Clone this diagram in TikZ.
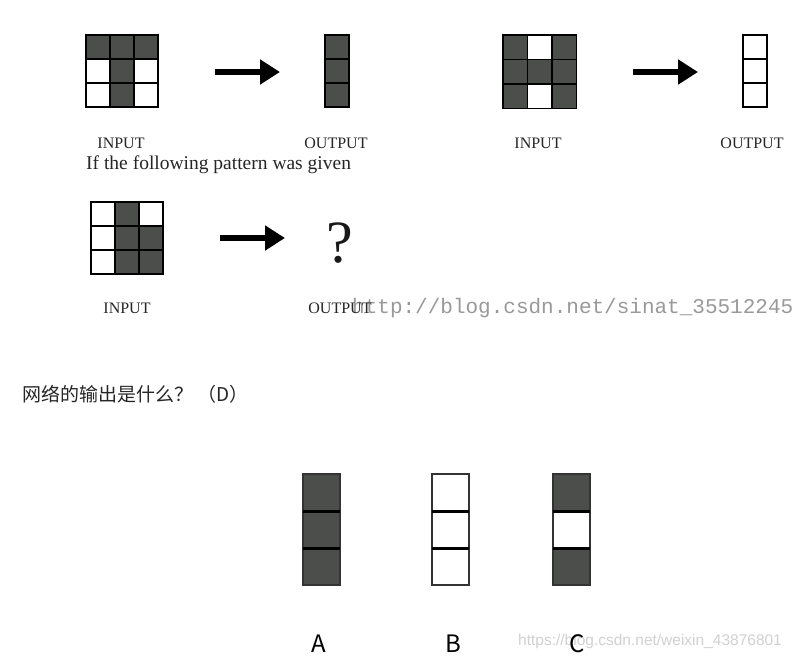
\documentclass[tikz,border=0pt]{standalone}
\usepackage{fontspec}
\setmainfont{Liberation Serif}
\newfontfamily\cjk{Noto Sans CJK SC}
\newfontfamily\wmmono{Liberation Mono}
\newfontfamily\wmsans{Liberation Sans}
\usetikzlibrary{arrows.meta}
\definecolor{darkcell}{RGB}{76,78,75}

% pattern grid: x, y, columns, cell size, cells (1 = dark)
\newcommand{\pixgrid}[5]{%
  \foreach \v [count=\k from 0] in {#5} {
    \pgfmathtruncatemacro{\gc}{mod(\k,#3)}
    \pgfmathtruncatemacro{\gr}{div(\k,#3)}
    \ifnum\v=1 \def\fc{darkcell}\else\def\fc{white}\fi
    \filldraw[cellbox, fill=\fc] ({#1+\gc*#4}, {#2+\gr*#4}) rectangle ++(#4,#4);
  }}

\begin{document}
\begin{tikzpicture}[x=1pt, y=-1pt,
    cellbox/.style={draw=black, line width=1.3pt},
    bigarrow/.style={line width=6.5pt, -{Triangle[length=20pt,width=24pt]}},
    lbl/.style={inner sep=0pt, text=black!85, font=\fontsize{16}{18}\selectfont},
    given/.style={inner sep=0pt, text=black!85, font=\fontsize{19.5}{22}\selectfont},
    qmarkstyle/.style={inner sep=0pt, text=black!90, font=\fontsize{60}{64}\selectfont},
    sepline/.style={draw=black, line width=3pt},
    choice/.style={inner sep=0pt, font=\cjk\fontsize{24}{28}\selectfont},
    cjktext/.style={inner sep=0pt, text=black!85, font=\cjk\fontsize{19}{22}\selectfont},
    wmone/.style={inner sep=0pt, text=black!40, font=\wmmono\fontsize{21}{24}\selectfont},
    wmtwo/.style={inner sep=0pt, text=black!18, font=\wmsans\fontsize{15.5}{18}\selectfont},
  ]
\useasboundingbox[fill=white] (0,0) rectangle (796,659);

% first example
\pixgrid{86}{35}{3}{24}{1,1,1,0,1,0,0,1,0}
\pixgrid{325}{35}{1}{24}{1,1,1}
\coordinate (a1s) at (215,72);
\coordinate (a1e) at (280,72);
\draw[bigarrow] (a1s) -- (a1e);
\node[lbl] (in1) at (121,143) {INPUT};
\node[lbl] (out1) at (336,143) {OUTPUT};
\node[given, anchor=base west] (text1) at (86,169) {If the following pattern was given};

% second example
\pixgrid{503}{35}{3}{24.5}{1,0,1,1,1,1,1,0,1}
\pixgrid{743}{35}{1}{24}{0,0,0}
\coordinate (a2s) at (633,72);
\coordinate (a2e) at (698,72);
\draw[bigarrow] (a2s) -- (a2e);
\node[lbl] (in2) at (538,143) {INPUT};
\node[lbl] (out2) at (752,143) {OUTPUT};

% the question
\pixgrid{91}{202}{3}{24}{0,1,0,0,1,1,0,1,1}
\coordinate (a3s) at (220,238);
\coordinate (a3e) at (285,238);
\draw[bigarrow] (a3s) -- (a3e);
\node[qmarkstyle, anchor=base] (qmark) at (340,262) {?};
\node[wmone, anchor=west] (wm1) at (352,308) {http://blog.csdn.net/sinat\_35512245};
\node[lbl] (in3) at (127,308) {INPUT};
\node[lbl] (out3) at (340,308) {OUTPUT};

\node[cjktext, anchor=west] (question) at (22,394) {网络的输出是什么？ （D）};

% answers
\begin{scope}[cellbox/.style={draw=black!80, line width=1.6pt}]
\pixgrid{303}{474}{1}{37}{1,1,1}
\pixgrid{432}{474}{1}{37}{0,0,0}
\pixgrid{553}{474}{1}{37}{1,0,1}
\end{scope}
\foreach \x in {303,432,553}
  \foreach \y in {511,548}
    \draw[sepline] (\x,\y) -- ++(37,0);

\node[wmtwo, anchor=west] (wm2) at (518,641) {https://blog.csdn.net/weixin\_43876801};
\node[choice] (optA) at (319,644) {A};
\node[choice] (optB) at (453,644) {B};
\node[choice] (optC) at (577,644) {C};
\end{tikzpicture}
\end{document}
